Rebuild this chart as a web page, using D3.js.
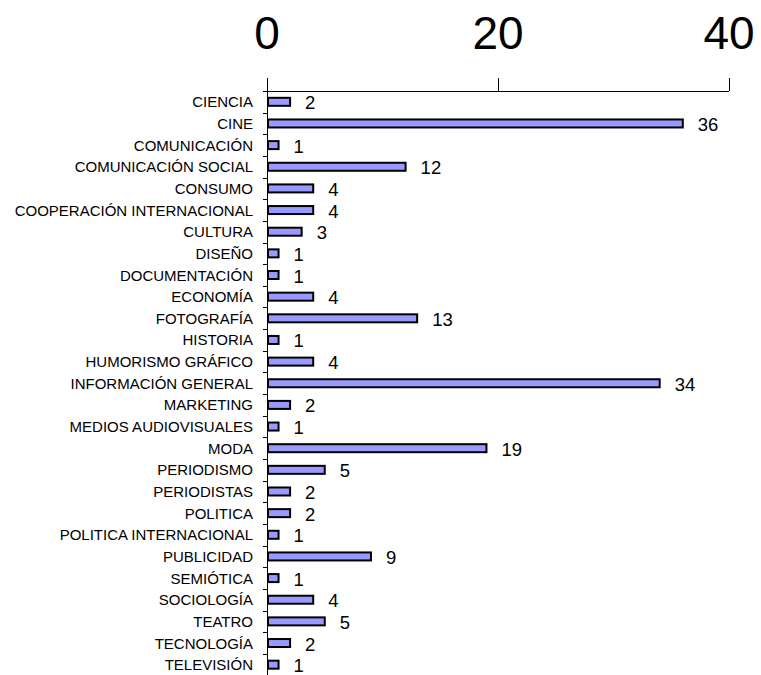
<!DOCTYPE html>
<html><head><meta charset="utf-8">
<script src="https://cdn.jsdelivr.net/npm/d3@7"></script>
<style>body{margin:0;background:#fff}svg{display:block}text{font-family:Arial,"Liberation Sans",sans-serif}</style>
</head><body><svg id="c" width="761" height="675"></svg>
<script>
const categories = ["CIENCIA","CINE","COMUNICACIÓN","COMUNICACIÓN SOCIAL","CONSUMO","COOPERACIÓN INTERNACIONAL","CULTURA","DISEÑO","DOCUMENTACIÓN","ECONOMÍA","FOTOGRAFÍA","HISTORIA","HUMORISMO GRÁFICO","INFORMACIÓN GENERAL","MARKETING","MEDIOS AUDIOVISUALES","MODA","PERIODISMO","PERIODISTAS","POLITICA","POLITICA INTERNACIONAL","PUBLICIDAD","SEMIÓTICA","SOCIOLOGÍA","TEATRO","TECNOLOGÍA","TELEVISIÓN"];
const values = [2,36,1,12,4,4,3,1,1,4,13,1,4,34,2,1,19,5,2,2,1,9,1,4,5,2,1];
const tickValues = [0,20,40];

const svg = d3.select("#c");
const x = d3.scaleLinear().domain([0,40]).range([267,729]);
const y = d3.scaleBand().domain(categories).range([91,675.5]);

// top axis line + ticks
svg.append("line").attr("x1",263).attr("x2",729).attr("y1",91.5).attr("y2",91.5).attr("stroke","#000").attr("stroke-width",1);
svg.selectAll(".xt").data(tickValues).enter().append("line")
  .attr("x1",d=>x(d)+0.5).attr("x2",d=>x(d)+0.5).attr("y1",78).attr("y2",91).attr("stroke","#000");
svg.selectAll(".xl").data(tickValues).enter().append("text")
  .attr("x",d=>x(d)).attr("y",49).attr("text-anchor","middle").attr("font-size",46).text(d=>d);

// y axis
svg.append("line").attr("x1",267.5).attr("x2",267.5).attr("y1",78).attr("y2",675).attr("stroke","#000");
svg.selectAll(".yt").data(categories.slice(1)).enter().append("line")
  .attr("x1",263).attr("x2",267).attr("y1",d=>Math.round(y(d))+0.5).attr("y2",d=>Math.round(y(d))+0.5).attr("stroke","#000");

// bars
const bh = 8;
svg.selectAll(".bar").data(categories).enter().append("rect")
  .attr("x",x(0)+1).attr("y",(d)=>y(d)+y.bandwidth()/2-bh/2)
  .attr("width",(d,i)=>x(values[i])-x(0)-1).attr("height",bh)
  .attr("fill","#9999FF").attr("stroke","#000").attr("stroke-width",2);

// value labels
svg.selectAll(".vl").data(categories).enter().append("text")
  .attr("x",(d,i)=>x(values[i])+15).attr("y",d=>y(d)+y.bandwidth()/2+7.5)
  .attr("font-size",18.5).text((d,i)=>values[i]);

// category labels
svg.selectAll(".cl").data(categories).enter().append("text")
  .attr("x",253).attr("y",d=>y(d)+y.bandwidth()/2+5.5)
  .attr("text-anchor","end").attr("font-size",15).text(d=>d);
</script></body></html>
